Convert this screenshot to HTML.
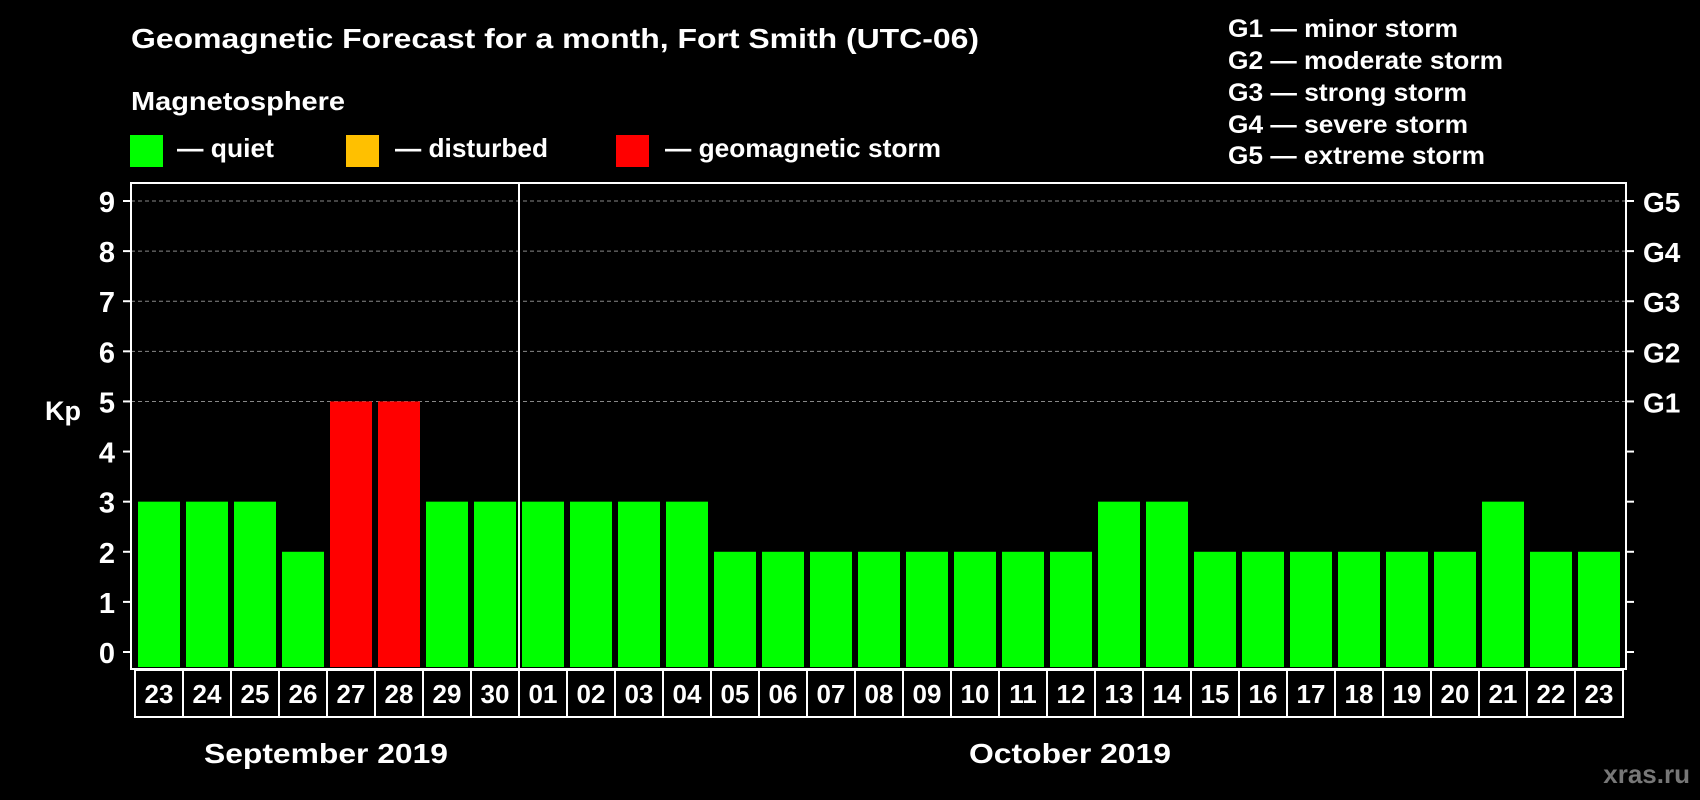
<!DOCTYPE html>
<html><head><meta charset="utf-8"><style>
html,body{margin:0;padding:0;background:#000;width:1700px;height:800px;overflow:hidden}
svg{display:block;font-family:"Liberation Sans",sans-serif;font-weight:bold}
</style></head><body>
<svg id="chart" width="1700" height="800" viewBox="0 0 1700 800">
<rect width="1700" height="800" fill="#000"/>
<text x="131" y="48" fill="#fff" font-size="28" textLength="848" lengthAdjust="spacingAndGlyphs">Geomagnetic Forecast for a month, Fort Smith (UTC-06)</text>
<text x="131" y="110" fill="#fff" font-size="26" textLength="214" lengthAdjust="spacingAndGlyphs">Magnetosphere</text>
<rect x="130" y="135" width="33" height="32" fill="#00ff00"/>
<text x="177" y="157" fill="#fff" font-size="26" textLength="97" lengthAdjust="spacingAndGlyphs">— quiet</text>
<rect x="346" y="135" width="33" height="32" fill="#ffc000"/>
<text x="395" y="157" fill="#fff" font-size="26" textLength="153" lengthAdjust="spacingAndGlyphs">— disturbed</text>
<rect x="616" y="135" width="33" height="32" fill="#ff0000"/>
<text x="665" y="157" fill="#fff" font-size="26" textLength="276" lengthAdjust="spacingAndGlyphs">— geomagnetic storm</text>
<g fill="#fff" font-size="25">
<text x="1228" y="37" textLength="230" lengthAdjust="spacingAndGlyphs">G1 — minor storm</text>
<text x="1228" y="69" textLength="275" lengthAdjust="spacingAndGlyphs">G2 — moderate storm</text>
<text x="1228" y="101" textLength="239" lengthAdjust="spacingAndGlyphs">G3 — strong storm</text>
<text x="1228" y="133" textLength="240" lengthAdjust="spacingAndGlyphs">G4 — severe storm</text>
<text x="1228" y="164" textLength="257" lengthAdjust="spacingAndGlyphs">G5 — extreme storm</text>
</g>
<g id="plot"></g>
<text x="63" y="420" fill="#fff" font-size="27" text-anchor="middle">Kp</text>
<text x="204" y="763" fill="#fff" font-size="28" textLength="244" lengthAdjust="spacingAndGlyphs">September 2019</text>
<text x="969" y="763" fill="#fff" font-size="28" textLength="202" lengthAdjust="spacingAndGlyphs">October 2019</text>
<text x="1690" y="783" fill="#777" font-size="26" text-anchor="end">xras.ru</text>
</svg>
<script>
const days = ["23","24","25","26","27","28","29","30","01","02","03","04","05","06","07","08","09","10","11","12","13","14","15","16","17","18","19","20","21","22","23"];
const kpValues = [3,3,3,2,5,5,3,3,3,3,3,3,2,2,2,2,2,2,2,2,3,3,2,2,2,2,2,2,3,2,2];
const yTicks = [0,1,2,3,4,5,6,7,8,9];
const gLabels = ["","","","","","G1","G2","G3","G4","G5"];
const monthBreakIndex = 8;

const NS="http://www.w3.org/2000/svg";
const g=document.getElementById('plot');
const L=131,R=1626,T=183,B=669;
const y0=652,unit=(652-201)/9;
const pitch=48,barW=42,x0=138;
const yS=v=>y0-v*unit;
const xS=i=>x0+i*pitch;
function mk(tag,attrs){const e=document.createElementNS(NS,tag);for(const k in attrs)e.setAttribute(k,attrs[k]);g.appendChild(e);return e;}
function col(v){return v>=5?'#ff0000':(v>=4?'#ffc000':'#00ff00');}

yTicks.forEach((t,i)=>{
  const y=yS(t);
  if(t>=5){const d=mk('line',{x1:L,x2:R,y1:y,y2:y,stroke:'#888','stroke-dasharray':'4,3','stroke-width':1});
  
  }
  const tl=mk('line',{x1:L-8,x2:L,y1:y,y2:y,stroke:'#fff','stroke-width':2});
  
  
  const tr=mk('line',{x1:R,x2:R+8,y1:y,y2:y,stroke:'#fff','stroke-width':2});
  
  
  const lb=mk('text',{x:115,y:y+11,fill:'#fff','font-size':29,'text-anchor':'end'});
  lb.textContent=t;
  
  
  if(gLabels[i]){const gl=mk('text',{x:R+17,y:y+11,fill:'#fff','font-size':28});
  gl.textContent=gLabels[i];
  
  }
});

kpValues.forEach((v,i)=>{
  const b=mk('rect',{x:xS(i),y:yS(v),width:barW,height:B-2-yS(v),fill:col(v)});
  
  
});

const frame=mk('rect',{x:L,y:T,width:R-L,height:B-T,fill:'none',stroke:'#fff','stroke-width':2});



const sepX=xS(monthBreakIndex)-3;
const sep=mk('line',{x1:sepX,x2:sepX,y1:T,y2:B,stroke:'#fff','stroke-width':2});



days.forEach((d,i)=>{
  const bx=xS(i)-3;
  const c=mk('rect',{x:bx,y:670,width:pitch,height:47,fill:'none',stroke:'#fff','stroke-width':2});
  
  
  const t=mk('text',{x:bx+pitch/2,y:703,fill:'#fff','font-size':26,'text-anchor':'middle'});
  t.textContent=d;
  
  
});
</script>
</body></html>
